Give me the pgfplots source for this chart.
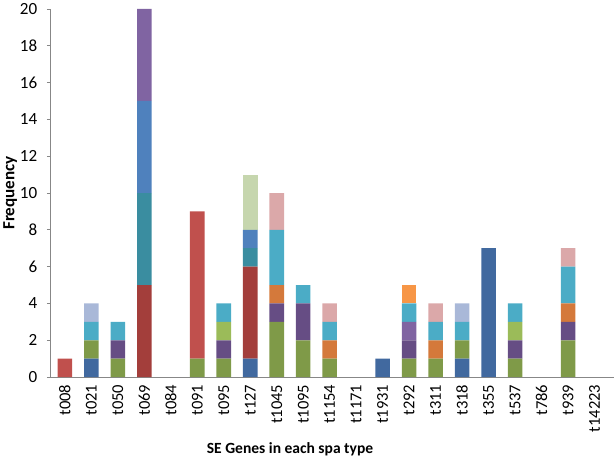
\documentclass[border=0pt]{standalone}
\usepackage{fontspec}
\setmainfont{Carlito}
\usepackage{pgfplots}
\usepackage{pgfplotstable}
\pgfplotsset{compat=1.18}

\definecolor{cB}{HTML}{41699F}
\definecolor{cG}{HTML}{7F9A48}
\definecolor{cR}{HTML}{C0504D}
\definecolor{cDR}{HTML}{A33E3B}
\definecolor{cT}{HTML}{3A8DA0}
\definecolor{cBB}{HTML}{4F81BD}
\definecolor{cP}{HTML}{664D84}
\definecolor{cLP}{HTML}{8064A2}
\definecolor{cO}{HTML}{D4793B}
\definecolor{cLG}{HTML}{9BBB59}
\definecolor{cC}{HTML}{4BACC6}
\definecolor{cPG}{HTML}{C6D6AE}
\definecolor{cPK}{HTML}{DBA8A9}
\definecolor{cLB}{HTML}{A9B8D8}
\definecolor{cLO}{HTML}{F79646}
\definecolor{axgray}{HTML}{878787}

% one column per colour, stacked bottom to top in this order
\pgfplotstableread{
x  B G R DR T BB P LP O LG C PG PK LB LO
0  0 0 1 0  0 0  0 0  0 0  0 0  0  0  0
1  1 1 0 0  0 0  0 0  0 0  1 0  0  1  0
2  0 1 0 0  0 0  1 0  0 0  1 0  0  0  0
3  0 0 0 5  5 5  0 5  0 0  0 0  0  0  0
4  0 0 0 0  0 0  0 0  0 0  0 0  0  0  0
5  0 1 8 0  0 0  0 0  0 0  0 0  0  0  0
6  0 1 0 0  0 0  1 0  0 1  1 0  0  0  0
7  1 0 0 5  1 1  0 0  0 0  0 3  0  0  0
8  0 3 0 0  0 0  1 0  1 0  3 0  2  0  0
9  0 2 0 0  0 0  2 0  0 0  1 0  0  0  0
10 0 1 0 0  0 0  0 0  1 0  1 0  1  0  0
11 0 0 0 0  0 0  0 0  0 0  0 0  0  0  0
12 1 0 0 0  0 0  0 0  0 0  0 0  0  0  0
13 0 1 0 0  0 0  1 1  0 0  1 0  0  0  1
14 0 1 0 0  0 0  0 0  1 0  1 0  1  0  0
15 1 1 0 0  0 0  0 0  0 0  1 0  0  1  0
16 7 0 0 0  0 0  0 0  0 0  0 0  0  0  0
17 0 1 0 0  0 0  1 0  0 1  1 0  0  0  0
18 0 0 0 0  0 0  0 0  0 0  0 0  0  0  0
19 0 2 0 0  0 0  1 0  1 0  2 0  1  0  0
20 0 0 0 0  0 0  0 0  0 0  0 0  0  0  0
}\spadata

\begin{document}
\begin{tikzpicture}
\begin{axis}[
  scale only axis, width=561pt, height=367pt,
  ybar stacked, bar width=0.55,
  xmin=-0.53, xmax=20.72, ymin=0, ymax=20,
  axis lines*=left, axis line style={axgray, line width=0.8pt},
  ytick={0,2,...,20}, ytick style={axgray, line width=0.8pt},
  tick align=outside, major tick length=4pt,
  xtick=data, xtick style={draw=none},
  xticklabels={t008,t021,t050,t069,t084,t091,t095,t127,t1045,t1095,t1154,t1171,t1931,t292,t311,t318,t355,t537,t786,t939,t14223},
  x tick label style={rotate=90, anchor=east, font=\fontsize{16.5}{18}\selectfont},
  y tick label style={font=\fontsize{17}{19}\selectfont, xshift=-6pt},
  /pgf/number format/assume math mode=true,
  ylabel={Frequency},
  ylabel style={font=\bfseries\fontsize{17}{19}\selectfont},
  ylabel shift=-4pt,
  xlabel={SE Genes in each spa type},
  xlabel style={font=\bfseries\fontsize{15.5}{18}\selectfont, at={(axis description cs:0.425,0)}, yshift=-62pt},
  every axis plot/.append style={draw=none},
]
\addplot[fill=cB]  table[x=x,y=B]  {\spadata};
\addplot[fill=cG]  table[x=x,y=G]  {\spadata};
\addplot[fill=cR]  table[x=x,y=R]  {\spadata};
\addplot[fill=cDR] table[x=x,y=DR] {\spadata};
\addplot[fill=cT]  table[x=x,y=T]  {\spadata};
\addplot[fill=cBB] table[x=x,y=BB] {\spadata};
\addplot[fill=cP]  table[x=x,y=P]  {\spadata};
\addplot[fill=cLP] table[x=x,y=LP] {\spadata};
\addplot[fill=cO]  table[x=x,y=O]  {\spadata};
\addplot[fill=cLG] table[x=x,y=LG] {\spadata};
\addplot[fill=cC]  table[x=x,y=C]  {\spadata};
\addplot[fill=cPG] table[x=x,y=PG] {\spadata};
\addplot[fill=cPK] table[x=x,y=PK] {\spadata};
\addplot[fill=cLB] table[x=x,y=LB] {\spadata};
\addplot[fill=cLO] table[x=x,y=LO] {\spadata};
\end{axis}
\end{tikzpicture}
\end{document}
